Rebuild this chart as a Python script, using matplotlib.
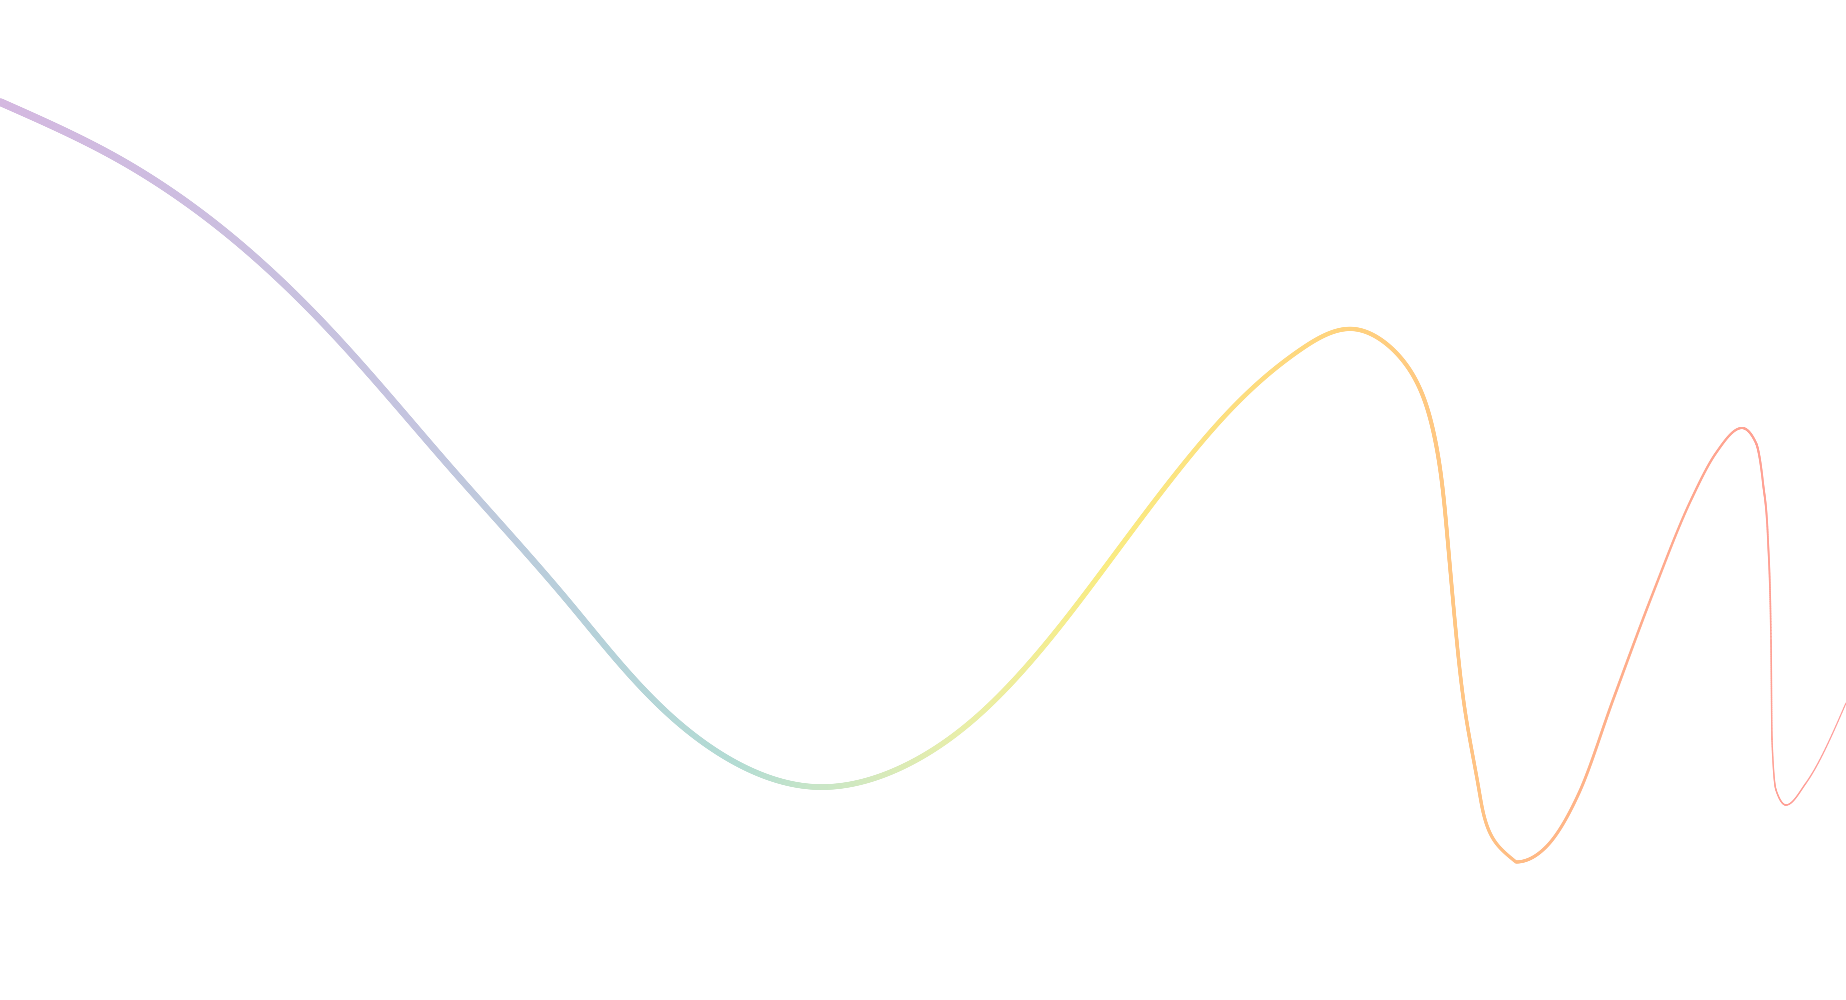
import numpy as np
import matplotlib
matplotlib.use("Agg")
import matplotlib.pyplot as plt
from matplotlib.collections import LineCollection
from matplotlib.colors import LinearSegmentedColormap

# points (pixel space, y grows downwards)
curve_x = [0, 115, 214, 325, 450, 567, 700, 817, 933, 1017, 1097, 1195, 1300,
           1353, 1400, 1433, 1447, 1456, 1466, 1479, 1496, 1516, 1546, 1579,
           1613, 1653, 1691, 1716, 1742, 1756, 1763, 1768, 1771, 1772,
           1776, 1786, 1806, 1846]
curve_y = [102, 157, 223, 325, 467, 600, 740, 787, 750, 677, 578, 450, 350,
           329, 357, 430, 533, 633, 717, 790, 843, 862, 847, 793,
           700, 593, 500, 453, 428, 443, 483, 540, 640, 740,
           790, 805, 783, 703]
split_x = 1516  # last trough: smooth spline before, monotone curve after

# colour stops along x (fraction of width)
stop_pos = [0.0, 0.22, 0.33, 0.40, 0.45, 0.52, 0.60, 0.72, 0.80, 0.88, 1.0]
stop_colors = ['#d4b8e0', '#c4c4df', '#b5d2d9', '#b3dcd3', '#cbe7c5', '#e8eeaa',
               '#faec82', '#ffd57e', '#ffc383', '#ffad8a', '#ff9a98']

W, H = 1846, 1000


def natural_spline(t, v, tt):
    # second derivatives of a natural cubic spline, then evaluate at tt
    n = len(t)
    h = np.diff(t)
    A = np.zeros((n, n))
    rhs = np.zeros(n)
    A[0, 0] = A[-1, -1] = 1
    for i in range(1, n - 1):
        A[i, i - 1] = h[i - 1]
        A[i, i] = 2 * (h[i - 1] + h[i])
        A[i, i + 1] = h[i]
        rhs[i] = 6 * ((v[i + 1] - v[i]) / h[i] - (v[i] - v[i - 1]) / h[i - 1])
    M = np.linalg.solve(A, rhs)
    k = np.clip(np.searchsorted(t, tt) - 1, 0, n - 2)
    hk = h[k]
    a = t[k + 1] - tt
    b = tt - t[k]
    return (M[k] * a ** 3 / (6 * hk) + M[k + 1] * b ** 3 / (6 * hk)
            + (v[k] / hk - M[k] * hk / 6) * a + (v[k + 1] / hk - M[k + 1] * hk / 6) * b)


def monotone_curve(xs, ys, n=60):
    # monotone cubic (Steffen) interpolation of y over x
    x = np.asarray(xs, float)
    y = np.asarray(ys, float)
    h = np.diff(x)
    s = np.diff(y) / h
    m = np.zeros_like(y)
    for i in range(1, len(x) - 1):
        p = (s[i - 1] * h[i] + s[i] * h[i - 1]) / (h[i - 1] + h[i])
        m[i] = (np.sign(s[i - 1]) + np.sign(s[i])) * min(abs(s[i - 1]), abs(s[i]), 0.5 * abs(p))
    m[0] = 0.0  # starts at a trough
    m[-1] = (3 * s[-1] - m[-2]) / 2
    out = []
    for i in range(len(x) - 1):
        t = np.linspace(0, 1, n, endpoint=False)
        h00 = 2 * t ** 3 - 3 * t ** 2 + 1
        h10 = t ** 3 - 2 * t ** 2 + t
        h01 = -2 * t ** 3 + 3 * t ** 2
        h11 = t ** 3 - t ** 2
        xx = x[i] + t * h[i]
        yy = h00 * y[i] + h10 * h[i] * m[i] + h01 * y[i + 1] + h11 * h[i] * m[i + 1]
        out.append(np.column_stack([xx, yy]))
    out.append([[x[-1], y[-1]]])
    return np.vstack(out)


px = np.array(curve_x, float)
py = np.array(curve_y, float)
k = curve_x.index(split_x)

# first part: parametric natural spline over chord length
t = np.concatenate([[0], np.cumsum(np.hypot(np.diff(px[:k + 1]), np.diff(py[:k + 1])))])
tt = np.linspace(0, t[-1], 3000)
part1 = np.column_stack([natural_spline(t, px[:k + 1], tt),
                         natural_spline(t, py[:k + 1], tt)])
# second part: monotone in x
part2 = monotone_curve(px[k:], py[k:])
smooth = np.vstack([part1[:-1], part2])
segs = np.stack([smooth[:-1], smooth[1:]], axis=1)

# taper along arc length
seg_len = np.linalg.norm(smooth[1:] - smooth[:-1], axis=1)
arc = np.cumsum(seg_len) / seg_len.sum()
widths_px = 7.5 - 6.5 * arc
widths_pt = widths_px * 72 / 100

cmap = LinearSegmentedColormap.from_list('pastel', list(zip(stop_pos, stop_colors)))
mid_x = segs[:, :, 0].mean(axis=1) / W
colors = cmap(np.clip(mid_x, 0, 1))

fig = plt.figure(figsize=(W / 100, H / 100), dpi=100)
ax = fig.add_axes([0, 0, 1, 1])
lc = LineCollection(segs, colors=colors, linewidths=widths_pt, capstyle='round')
ax.add_collection(lc)
ax.set_xlim(0, W)
ax.set_ylim(H, 0)
ax.axis('off')

fig.savefig('out.png', dpi=100, facecolor='white')
